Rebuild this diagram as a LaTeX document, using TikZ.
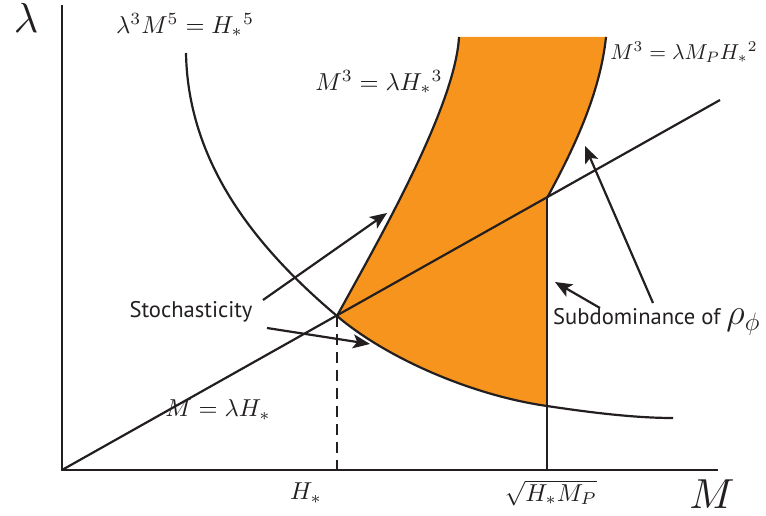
\documentclass[tikz,border=0pt]{standalone}
\usepackage{fontspec}
\usepackage{graphicx}
\setsansfont{PT Sans}
\usetikzlibrary{arrows.meta}
\definecolor{ink}{HTML}{231F20}
\definecolor{band}{HTML}{F7941D}
\tikzset{
  ln/.style={draw=ink, line width=2.2pt},
  pointer/.style={draw=ink, line width=2.2pt, -{Stealth[length=17pt, width=14pt, inset=4pt]}},
  mlabel/.style={text=ink, inner sep=0pt, font=\normalsize, scale=2.45},
  slabel/.style={text=ink, inner sep=0pt, font=\sffamily\fontsize{22.6}{26}\selectfont},
  biglabel/.style={text=ink, inner sep=0pt, font=\normalsize, scale=4.2}
}
\begin{document}
\begin{tikzpicture}[x=1pt, y=-1pt]
\useasboundingbox (0,0) rectangle (766,516);
% key points
\coordinate (O) at (62,470);
\coordinate (Ytop) at (62,5);
\coordinate (Xend) at (718,470);
\coordinate (P) at (337,316);
\coordinate (Q) at (547,198);
\coordinate (R) at (547,406);
\coordinate (Hs) at (337,470);
\coordinate (Sq) at (547,470);
\coordinate (Dend) at (720,100);
\coordinate (Htop) at (186,53);
\coordinate (Hend) at (673,418);
\coordinate (Ltop) at (459,37);
\coordinate (Rtop) at (606,37);
% shaded band
\fill[band] (P) .. controls (370,255) and (455,110) .. (Ltop) -- (Rtop)
  .. controls (600,95) and (572,152) .. (Q) -- (R)
  .. controls (470,395) and (385,357) .. (P) -- cycle;
% axes
\draw[ln] (Ytop) -- (O) -- (Xend);
% curves
\draw[ln] (Htop) .. controls (188,170) and (265,255) .. (P)
  .. controls (385,357) and (470,395) .. (R)
  .. controls (600,414) and (640,418) .. (Hend);
\draw[ln] (P) .. controls (370,255) and (455,110) .. (Ltop);
\draw[ln] (Q) .. controls (572,152) and (600,95) .. (Rtop);
\draw[ln] (O) -- (Dend);
\draw[ln] (Q) -- (Sq);
\draw[ln, dash pattern=on 11pt off 7pt] (P) -- (Hs);
% labels
\node[biglabel] (lam) at (26,18) {$\lambda$};
\node[biglabel] (Mlab) at (712,494) {$M$};
\node[mlabel] (hyp) at (185,25) {$\lambda^3M^5=H_*{}^5$};
\node[mlabel] (left) at (379,82) {$M^3=\lambda H_*{}^3$};
\node[mlabel, scale=0.88, anchor=west] (right) at (610,52) {$M^3=\lambda M_PH_*{}^2$};
\node[mlabel] (diag) at (218,410) {$M=\lambda H_*$};
\node[mlabel] (hstar) at (306,493) {$H_*$};
\node[mlabel] (sqrt) at (551,493) {$\sqrt{H_*M_P}$};
\node[slabel] (stoch) at (191,312) {Stochasticity};
\node[slabel, anchor=west] (sub) at (553,322) {Subdominance of \scalebox{1.75}{$\rho_\phi$}};
% pointers
\coordinate (s1) at (263,300);
\coordinate (s1t) at (387,213);
\coordinate (s2) at (267,328);
\coordinate (s2t) at (370,344);
\coordinate (d1) at (600,308);
\coordinate (d1t) at (555,282);
\coordinate (d2) at (653,303);
\coordinate (d2t) at (585,146);
\draw[pointer] (s1) -- (s1t);
\draw[pointer] (s2) -- (s2t);
\draw[pointer] (d1) -- (d1t);
\draw[pointer] (d2) -- (d2t);
\end{tikzpicture}
\end{document}
